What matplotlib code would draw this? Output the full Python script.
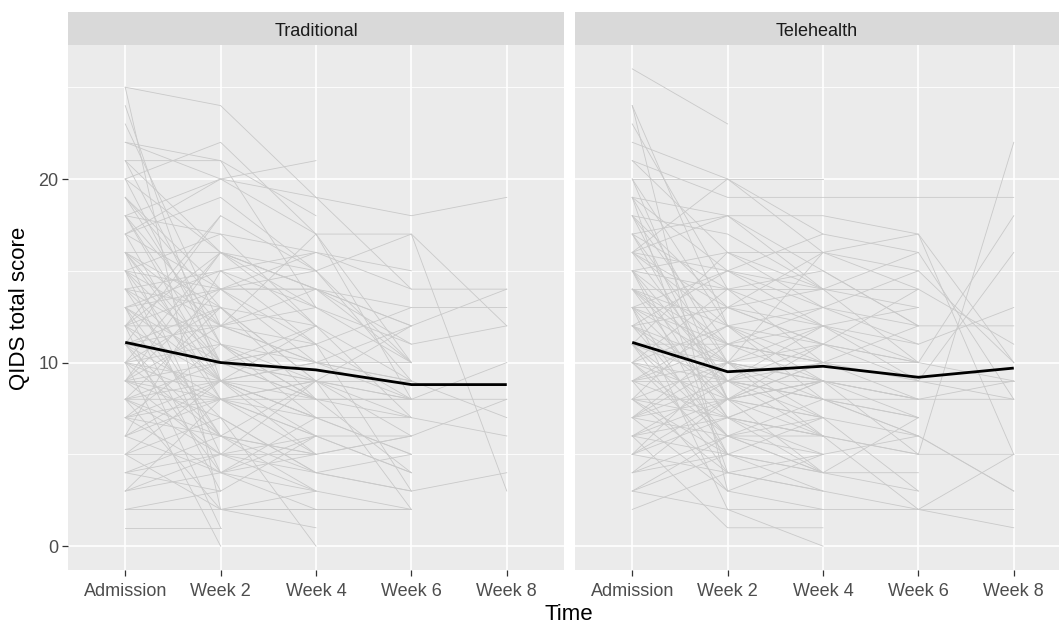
import numpy as np
import matplotlib
matplotlib.use("Agg")
import matplotlib.pyplot as plt
from matplotlib.ticker import MultipleLocator

nan = np.nan
time_labels = ["Admission", "Week 2", "Week 4", "Week 6", "Week 8"]
panels = ["Traditional", "Telehealth"]

# individual QIDS trajectories (Admission, Week 2, Week 4, Week 6, Week 8)
traditional = [
    [25, 24, 19, 18, 19], [24, 9, 7, 5, nan], [25, 2, 3, nan, nan], [22, 20, 17, 10, nan],
    [21, 21, 13, nan, nan], [21, 16, 14, 13, 13], [20, 22, 17, 8, nan], [19, 14, 15, 17, 3],
    [18, 20, 21, nan, nan], [18, 12, 10, 12, 14], [18, 17, 16, 14, 14], [17, 19, 15, 9, nan],
    [17, 8, 6, 4, nan], [16, 16, 14, 11, 12], [16, 13, 8, 8, 10], [16, 5, 9, nan, nan],
    [15, 17, 12, 7, nan], [15, 10, 11, 3, nan], [15, 4, 2, nan, nan], [14, 15, 16, 15, nan],
    [14, 11, 9, 2, nan], [14, 6, 5, 6, 8], [13, 14, 10, 9, 7], [13, 9, 12, nan, nan],
    [13, 3, nan, nan, nan], [12, 18, 15, 10, nan], [12, 12, 11, 8, nan], [12, 7, 4, 3, 4],
    [12, 1, nan, nan, nan], [11, 13, 9, 6, nan], [11, 10, 8, 8, 8], [11, 4, 6, nan, nan],
    [10, 16, 13, 11, nan], [10, 9, 7, 7, 6], [10, 11, 10, nan, nan], [10, 6, 3, 2, nan],
    [9, 12, 14, 12, nan], [9, 9, 9, 9, nan], [9, 7, 0, nan, nan], [9, 14, 11, nan, nan],
    [8, 10, 12, 9, nan], [8, 8, 8, 4, nan], [8, 5, 6, 6, nan], [8, 13, nan, nan, nan],
    [8, 2, 1, nan, nan], [7, 9, 10, 10, nan], [7, 6, 5, nan, nan], [7, 11, 7, 5, nan],
    [6, 8, 9, 8, nan], [6, 4, 7, nan, nan], [6, 15, 13, nan, nan], [5, 7, 4, 3, nan],
    [5, 9, 8, nan, nan], [5, 2, 2, 2, nan], [4, 6, 9, 12, nan], [4, 5, 3, nan, nan],
    [3, 4, 5, 6, nan], [3, 8, nan, nan, nan], [2, 2, 2, 2, nan], [2, 3, 6, nan, nan],
    [1, 1, nan, nan, nan], [20, 10, 9, nan, nan], [19, 11, 8, 7, nan], [17, 20, 19, 14, nan],
    [16, 12, 17, 17, 12], [13, 15, 11, 13, nan], [12, 16, 15, nan, nan], [11, 8, 5, nan, nan],
    [9, 5, 4, 5, nan], [14, 9, 10, 8, nan], [18, 10, nan, nan, nan], [10, 0, nan, nan, nan],
    [22, 21, 18, nan, nan], [21, 11, 8, nan, nan], [15, 14, 14, 10, nan],
    [23, 12, nan, nan, nan], [20, 16, 12, nan, nan], [19, 13, 9, 8, nan], [18, 9, 5, nan, nan],
    [17, 14, 14, 12, nan], [16, 10, 8, nan, nan], [15, 12, 13, 10, nan], [15, 8, nan, nan, nan],
    [14, 13, 12, nan, nan], [13, 10, 9, 7, nan], [13, 6, 4, nan, nan], [12, 9, 7, nan, nan],
    [12, 14, 16, nan, nan], [11, 12, 10, 9, nan], [11, 6, nan, nan, nan], [10, 8, 6, 4, nan],
    [10, 13, nan, nan, nan], [9, 10, 11, nan, nan], [9, 8, 7, nan, nan], [8, 9, 6, nan, nan],
    [8, 6, nan, nan, nan], [7, 8, 9, nan, nan], [7, 4, 3, nan, nan], [6, 9, nan, nan, nan],
    [5, 5, 5, nan, nan], [4, 3, nan, nan, nan], [3, 5, nan, nan, nan], [9, 16, 14, nan, nan],
    [11, 18, nan, nan, nan], [16, 9, nan, nan, nan],
]
telehealth = [
    [26, 23, nan, nan, nan], [24, 12, 8, 6, nan], [24, 3, 5, nan, nan], [22, 20, 17, 16, 8],
    [21, 19, 19, 19, 19], [20, 20, 20, nan, nan], [19, 18, 15, 12, nan], [19, 10, 9, 5, 22],
    [18, 13, 16, 14, 11], [18, 8, 11, nan, nan], [17, 18, 14, 10, 18], [17, 14, 12, 9, 16],
    [16, 15, 17, nan, nan], [16, 9, 6, 2, 5], [15, 16, 16, 15, 10], [15, 11, 10, 8, 9],
    [15, 5, 7, nan, nan], [14, 14, 14, 14, nan], [14, 7, 4, 3, nan], [14, 12, 13, 11, 13],
    [13, 13, 11, 10, 9], [13, 8, 9, nan, nan], [13, 2, 0, nan, nan], [12, 15, 13, 12, 12],
    [12, 10, 8, 8, 8], [12, 6, 5, nan, nan], [11, 11, 12, 13, nan], [11, 9, 7, 6, 3],
    [11, 4, nan, nan, nan], [10, 14, 15, 12, nan], [10, 8, 10, 9, 8], [10, 5, 3, 2, 1],
    [9, 12, 10, nan, nan], [9, 9, 9, 9, 9], [9, 3, 2, nan, nan], [8, 10, 11, 10, nan],
    [8, 7, 6, 5, 5], [8, 13, 14, nan, nan], [7, 8, 4, 7, nan], [7, 6, 8, nan, nan],
    [7, 11, 9, 8, nan], [6, 9, 12, 11, nan], [6, 5, 4, 4, nan], [6, 1, 1, nan, nan],
    [5, 7, 9, nan, nan], [5, 10, 6, 5, nan], [5, 4, 3, nan, nan], [4, 8, 10, 12, nan],
    [4, 5, nan, nan, nan], [3, 6, 7, 3, nan], [3, 2, 2, 2, 2], [2, 4, 3, nan, nan],
    [21, 16, 13, nan, nan], [20, 8, 7, nan, nan], [19, 4, nan, nan, nan], [18, 17, 14, 13, nan],
    [17, 10, 16, 17, 10], [16, 12, 9, nan, nan], [15, 9, 11, 14, nan], [14, 10, 7, nan, nan],
    [13, 11, 13, 15, nan], [12, 9, 10, 10, nan], [11, 7, 9, 7, nan], [10, 6, 4, nan, nan],
    [9, 10, 12, nan, nan], [8, 4, 5, 6, nan], [7, 9, 8, 6, 3], [6, 8, 7, nan, nan],
    [13, 15, 14, 16, nan], [16, 18, 18, 17, 5],
    [23, 14, 10, nan, nan], [20, 12, 11, nan, nan], [19, 15, 12, 10, nan], [18, 11, nan, nan, nan],
    [17, 8, 6, nan, nan], [16, 13, 11, 9, nan], [15, 14, nan, nan, nan], [15, 7, 6, nan, nan],
    [14, 9, 8, 7, nan], [14, 11, 10, nan, nan], [13, 10, nan, nan, nan], [13, 5, 4, nan, nan],
    [12, 8, 9, 8, nan], [12, 13, 12, nan, nan], [11, 10, 9, nan, nan], [11, 6, 6, nan, nan],
    [10, 9, 8, 7, nan], [10, 12, nan, nan, nan], [9, 7, 6, nan, nan], [9, 11, 10, nan, nan],
    [8, 8, 9, nan, nan], [8, 5, nan, nan, nan], [7, 10, 9, 8, nan], [7, 3, nan, nan, nan],
    [6, 7, 5, nan, nan], [5, 8, nan, nan, nan], [4, 6, 4, nan, nan], [3, 5, nan, nan, nan],
    [16, 20, 16, nan, nan], [11, 16, 14, nan, nan],
]
# group mean trajectories (black lines)
traditional_mean = [11.1, 10.0, 9.6, 8.8, 8.8]
telehealth_mean = [11.1, 9.5, 9.8, 9.2, 9.7]

data = {"Traditional": (traditional, traditional_mean),
        "Telehealth": (telehealth, telehealth_mean)}

plt.rcParams['font.family'] = ['Liberation Sans', 'DejaVu Sans']

W, H = 1059, 623
fig = plt.figure(figsize=(W / 100, H / 100), dpi=100)
fig.patch.set_facecolor("white")

panel_left_px = [68, 575]
panel_w_px = 496
panel_top_px, panel_bot_px = 45, 570
strip_top_px = 12

x = np.arange(1, 6)
for i, name in enumerate(panels):
    l = panel_left_px[i] / W
    ax = fig.add_axes([l, 1 - panel_bot_px / H, panel_w_px / W,
                       (panel_bot_px - panel_top_px) / H])
    ax.set_facecolor("#EBEBEB")
    for s in ax.spines.values():
        s.set_visible(False)
    ax.set_xlim(0.4, 5.6)
    ax.set_ylim(-1.3, 27.3)
    ax.yaxis.set_major_locator(MultipleLocator(10))
    ax.yaxis.set_minor_locator(MultipleLocator(5))
    ax.set_xticks(x)
    ax.set_xticklabels(time_labels)
    ax.grid(which="major", color="white", linewidth=1.2, zorder=0)
    ax.grid(which="minor", axis="y", color="white", linewidth=0.6, zorder=0)
    ax.set_axisbelow(True)
    ax.tick_params(axis="both", which="major", length=4, width=0.9, color="#333333",
                   labelcolor="#4D4D4D", labelsize=13, pad=3)
    ax.tick_params(axis="x", which="major", pad=5.5)
    ax.tick_params(axis="y", which="minor", length=0)
    if i == 1:
        ax.tick_params(axis="y", which="both", left=False, labelleft=False)

    trajs, mean = data[name]
    for t in trajs:
        ax.plot(x, t, color="#C9C9C9", linewidth=0.6, zorder=2)
    ax.plot(x, mean, color="black", linewidth=2.0, zorder=3, solid_capstyle="butt")

    sax = fig.add_axes([l, 1 - panel_top_px / H, panel_w_px / W,
                        (panel_top_px - strip_top_px) / H])
    sax.set_facecolor("#D9D9D9")
    sax.set_xticks([]); sax.set_yticks([])
    for s in sax.spines.values():
        s.set_visible(False)
    vis_right = min(panel_left_px[i] + panel_w_px, W)
    cx = ((panel_left_px[i] + vis_right) / 2 - panel_left_px[i]) / panel_w_px
    if i == 0:
        cx = 0.5
    sax.text(cx, 0.42, name, ha="center", va="center", fontsize=13, color="#1A1A1A",
             transform=sax.transAxes)

fig.text(569 / W, 1 - 614 / H, "Time", ha="center", va="center", fontsize=16, color="black")
fig.text(20 / W, 1 - 308 / H, "QIDS total score", ha="center", va="center",
         rotation=90, fontsize=16, color="black")

fig.savefig("out.png", dpi=100)
